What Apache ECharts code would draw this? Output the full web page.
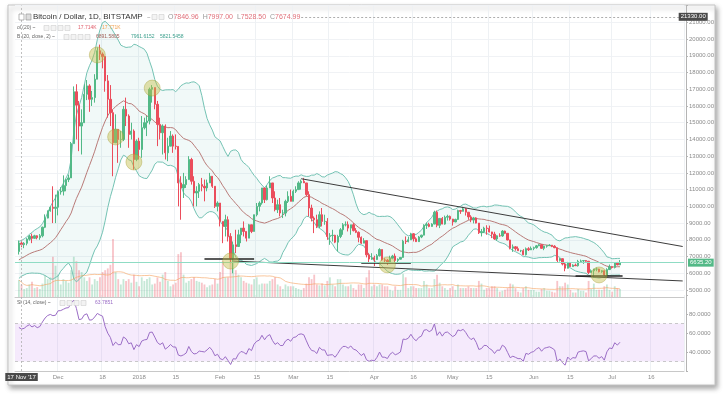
<!DOCTYPE html>
<html><head><meta charset="utf-8">
<script src="https://cdn.jsdelivr.net/npm/echarts@6/dist/echarts.min.js"></script>
<style>html,body{margin:0;padding:0;background:#fff;}#c{width:724px;height:395px;}</style>
</head><body><div id="c"></div>
<script>
// ---------------- DATA ----------------
const axisStart = '2017-11-15';   // first category on the time axis
const axisDays = 256;             // time axis runs to 2018-07-28
const firstDataDate = '2017-11-16';

// closes before the visible range (only to warm up BB(20) and RSI(14))
const priorCloses = [5590,5710,5680,6010,6010,5980,5900,5520,5750,5900,5780,5750,6150,6130,6450,
  6740,7030,7160,7380,7400,6990,7130,7460,7140,6580,6360,5880,6530,6600,7300];
const firstOpen = 7300;

// daily closes 2017-11-16 .. 2018-07-04
const closes = [
  7810,7710,7790,8040,8210,8090,8240,8130,8240,8750,9300,9730,9940,9880,9950,
  10860,10910,11240,11600,11700,13750,16850,16050,14800,15000,16700,17200,16400,16500,17600,19300,19100,18950,17500,16400,15600,13800,14600,14000,14000,15800,15400,14300,14500,12800,13900,
  13400,14700,15000,15100,17000,17100,16100,14900,14400,14800,13200,13600,14200,13600,13580,11400,11100,11300,11600,12800,11500,10800,10900,11300,11200,11100,11400,11800,11200,10000,10200,
  9100,8800,9200,8200,6900,7700,7600,8300,8700,8500,8100,8900,8500,9500,10000,10200,11100,10400,11100,11400,10500,9800,10100,9600,9600,10300,10600,10300,
  10900,11000,11400,11500,11400,10700,9900,9300,9200,8800,9500,9100,9100,8200,8250,8270,7860,8200,8600,8900,8900,8700,8900,8550,8450,8150,7800,7950,7100,6850,6930,
  6820,7050,7420,6800,6780,6620,6900,7030,6770,6840,6950,7920,7890,8000,8360,8060,7890,8170,8280,8860,8920,8800,8940,9650,8870,9280,8940,9350,9400,9240,
  9070,9220,9750,9700,9850,9650,9370,9180,9310,9000,8420,8480,8700,8680,8470,8340,8050,8240,8230,8520,8390,7990,7500,7580,7470,7350,7350,7110,7470,7400,7490,
  7530,7640,7710,7490,7620,7650,7680,7620,7530,6770,6870,6550,6300,6630,6400,6490,6450,6710,6740,6760,6720,6050,6150,6250,6250,6090,6150,5900,6220,6390,
  6350,6620,6500,6635.2];
const highs = [
  7960,8000,7860,8100,8290,8370,8300,8270,8340,8790,9520,9750,10000,11200,10700,
  10950,11150,11850,11650,11900,13850,17170,17300,16300,15800,17300,17550,17300,16900,17900,19500,19670,19200,19000,17850,17250,15780,15500,14600,14500,16000,16500,15500,15000,14600,14000,
  14100,15400,15300,15400,17100,17250,17100,16300,15300,14900,14900,14100,14500,14300,14300,13600,11800,12000,11800,13000,12900,11800,11200,11400,11700,11600,11600,12000,11800,11200,10300,
  10200,9100,9500,9400,8400,7900,8600,8600,8700,9100,8500,8950,8900,9500,10200,10300,11100,11100,11250,11800,11300,10900,10400,10500,9800,10400,10900,11000,
  11000,11200,11500,11600,11700,11400,10900,10100,9400,9500,9700,9900,9500,9300,8400,8600,8300,8300,8700,9000,9100,9100,8900,9000,8700,8500,8200,8100,7950,7200,7200,
  7050,7150,7500,7420,6900,6850,7050,7100,7180,6890,6970,8000,8200,8180,8420,8400,8150,8230,8300,8930,9030,9020,8990,9740,9750,9300,9360,9450,9500,9450,
  9250,9260,9800,9790,9970,9900,9660,9470,9370,9350,9000,8650,8780,8870,8850,8480,8480,8270,8390,8580,8550,8400,8000,7720,7630,7600,7400,7440,7540,7560,7600,
  7590,7690,7760,7740,7650,7690,7740,7690,7680,7530,6910,6890,6620,6680,6640,6540,6580,6800,6820,6790,6790,6730,6230,6260,6340,6270,6190,6170,6300,6520,
  6410,6650,6680,6790];
const lows = [
  7120,7560,7500,7670,7950,7800,8070,8030,8000,8150,8700,9280,9680,9000,9000,
  9460,10700,10650,10900,11450,11700,13750,14000,13300,13100,15000,16350,15650,16000,16200,17600,18750,18250,16850,15300,14800,11800,13800,12600,13500,13900,14800,13500,14000,12200,12700,
  12800,12900,14600,14200,14900,16200,15800,13600,14000,13100,12800,12700,13600,13200,13400,10000,9200,10500,11100,11600,11300,10000,10000,10500,10900,10300,10900,11400,11100,9900,9700,
  8800,7800,8200,7900,6600,6000,7200,7600,7800,8200,7900,8100,8400,8500,9400,9700,10100,10200,10350,11100,10200,9700,9600,9400,9300,9400,10200,10300,
  10300,10800,11000,11000,11400,10600,9400,9100,8400,8700,8700,8800,8900,8000,7700,7900,7800,7300,8100,8300,8800,8500,8300,8500,8400,7850,7750,7800,6950,6600,6800,
  6430,6800,7000,6750,6600,6500,6600,6900,6600,6650,6830,6930,7750,7850,8000,7900,7870,7880,8100,8270,8650,8750,8780,8930,8750,8700,8930,8900,9150,9150,
  8850,9050,9180,9550,9700,9450,9200,9050,8980,8980,8350,8200,8400,8300,8440,8100,8000,7950,8180,8180,8340,7970,7430,7280,7350,7330,7260,7080,7060,7330,7390,
  7380,7470,7620,7470,7380,7530,7630,7560,7500,6650,6700,6470,6120,6290,6380,6380,6440,6400,6680,6560,6690,5950,6040,5750,6120,6050,6030,5850,5800,6200,
  6280,6290,6480,6510];
// daily volume, thousands of BTC
const volumesK = [
  19,14,9,10,14,17,10,11,9,15,24,20,22,45,35,
  25,14,20,18,16,30,45,40,30,28,22,18,22,14,20,18,22,28,30,32,36,65,28,20,14,20,18,20,16,25,17,
  12,22,18,20,22,14,15,22,17,25,28,18,12,14,16,48,50,25,16,18,20,22,18,17,16,14,11,13,14,20,15,
  28,40,22,22,45,55,30,25,22,18,16,15,14,20,22,14,15,15,15,18,20,22,14,12,9,14,12,12,
  12,10,9,8,10,15,22,20,25,14,13,15,13,18,22,14,12,20,20,14,12,12,14,10,8,14,14,10,22,30,12,
  14,12,14,14,12,12,8,7,12,8,8,26,22,10,12,12,10,10,10,18,14,10,10,20,25,16,12,10,8,10,
  12,8,14,10,10,10,12,10,10,10,18,15,8,10,10,12,12,10,6,7,8,10,15,14,10,6,5,10,12,8,8,
  8,6,6,9,10,7,7,6,5,18,12,12,16,14,8,5,5,9,7,7,5,18,9,15,8,8,8,12,14,8,
  6,12,10,9];

// time-axis tick labels
const tickDates = ['2017-12-01','2017-12-18','2018-01-01','2018-01-15','2018-02-01','2018-02-15','2018-03-01','2018-03-15',
  '2018-04-01','2018-04-16','2018-05-01','2018-05-15','2018-06-01','2018-06-15','2018-07-01','2018-07-16'];
const tickTexts = ['Dec','18','2018','15','Feb','15','Mar','15','Apr','16','May','15','Jun','15','Jul','16'];

// annotations (date, price)
const circles = [['2017-12-16',19050],['2017-12-23',14150],['2018-01-06',17070],['2017-12-30',12650],
  ['2018-02-05',6730],['2018-04-06',6500],['2018-06-26',5900]];
const trendLines = [[['2018-03-04',11650],['2018-07-28',7600]], [['2018-02-06',6730],['2018-07-28',5540]]];
const supportLines = [[['2018-01-26',6850],['2018-02-14',6850]], [['2018-03-27',6610],['2018-04-15',6610]], [['2018-06-17',5840],['2018-07-05',5840]]];
const crossPrice = 21330, crossDate = '2017-11-17';

// ---------------- BUILD ----------------
const cats = [];
{ const t0 = Date.parse(axisStart + 'T00:00:00Z'); for (let i = 0; i < axisDays; i++) cats.push(new Date(t0 + i * 864e5).toISOString().slice(0, 10)); }
const off = cats.indexOf(firstDataDate);
const pad = n => Array(n).fill('-');
const N = closes.length;
const opens = closes.map((c, i) => i === 0 ? firstOpen : closes[i - 1]);
const candles = closes.map((c, i) => [opens[i], c, Math.min(lows[i], opens[i], c), Math.max(highs[i], opens[i], c)]);

const all = priorCloses.concat(closes), P = priorCloses.length;
const bbMid = [], bbUp = [], bbLo = [];
for (let i = 0; i < N; i++) {
  const w = all.slice(P + i - 19, P + i + 1);
  const m = w.reduce((a, b) => a + b, 0) / w.length;
  const sd = Math.sqrt(w.reduce((a, b) => a + (b - m) * (b - m), 0) / w.length);
  bbMid.push(m); bbUp.push(m + 2 * sd); bbLo.push(m - 2 * sd);
}
const rsiAll = [];
{ let ag = 0, al = 0;
  for (let k = 1; k < all.length; k++) {
    const d = all[k] - all[k - 1], g = Math.max(d, 0), l = Math.max(-d, 0);
    if (k <= 14) { ag += g / 14; al += l / 14; }
    else { ag = (ag * 13 + g) / 14; al = (al * 13 + l) / 14; }
    rsiAll[k] = k >= 14 ? (al === 0 ? 100 : 100 - 100 / (1 + ag / al)) : null;
  } }
const rsi = closes.map((c, i) => rsiAll[P + i]);
const volMA = volumesK.map((v, i) => { const w = volumesK.slice(Math.max(0, i - 19), i + 1); return w.reduce((a, b) => a + b, 0) / w.length * 1000; });

const isTick = (idx, val) => tickDates.indexOf(val) >= 0;
const FONT = '"Liberation Sans", "DejaVu Sans", sans-serif';
const axisCol = '#b4b4b4', lblCol = '#8c8c8c';

const lineDef = (pair, style) => [{ coord: pair[0], lineStyle: style }, { coord: pair[1] }];

const chart = echarts.init(document.getElementById('c'), null, { renderer: 'canvas' });
const boxes = (x0, y, n) => Array.from({ length: n }, (_, k) => ({ type: 'rect', shape: { x: x0 + k * 7, y: y - 2.5, width: 5, height: 5 }, style: { fill: '#f3f3f3', stroke: '#cfcfcf', lineWidth: 0.6 }, z: 10 }));
const txt = (x, y, text, size, fill) => ({ type: 'text', x, y, style: { text, font: size + 'px ' + FONT, fill, verticalAlign: 'middle' }, z: 10 });

const option = {
  animation: false,
  backgroundColor: '#ffffff',
  textStyle: { fontFamily: FONT },
  graphic: [
    { type: 'rect', shape: { x: 8, y: 5, width: 707, height: 380 }, style: { fill: '#fff', stroke: '#c4c4c4', lineWidth: 1, shadowBlur: 5, shadowColor: 'rgba(0,0,0,0.35)', shadowOffsetX: 2, shadowOffsetY: 3 }, z: -10 },
    { type: 'rect', shape: { x: 19, y: 14, width: 5, height: 6 }, style: { fill: '#fff', stroke: '#999', lineWidth: 0.7 }, z: 10 },
    { type: 'rect', shape: { x: 26, y: 14, width: 5, height: 6 }, style: { fill: '#ddd', stroke: '#999', lineWidth: 0.7 }, z: 10 },
    txt(33, 17, 'Bitcoin / Dollar, 1D, BITSTAMP', 8, '#333'),
    txt(147, 17, '~', 6, '#999'),
    ...boxes(152, 17, 2),
    { type: 'text', x: 168, y: 17, style: { text: '{g|O}{r|7846.96}  {g|H}{r|7997.00}  {g|L}{r|7528.50}  {g|C}{r|7674.99}', font: '7px ' + FONT, verticalAlign: 'middle', rich: { g: { fill: '#999', font: '7px ' + FONT }, r: { fill: '#e0707a', font: '7px ' + FONT } } }, z: 10 },
    txt(17, 28, 'ol (20) ~', 5, '#666'),
    ...boxes(44, 28, 4),
    txt(78, 28, '17.714K', 5, '#e0606e'),
    txt(102, 28, '17.771K', 5, '#f0a050'),
    txt(17, 37, 'B (20, close, 2) ~', 5, '#666'),
    ...boxes(64, 37, 4),
    txt(96, 37, '6891.5805', 5, '#a0605a'),
    txt(131, 37, '7961.6152', 5, '#3ea08e'),
    txt(160, 37, '5821.5458', 5, '#3ea08e'),
    txt(17, 303, 'SI (14, close) ~', 5, '#666'),
    ...boxes(60, 303, 4),
    txt(95, 303, '63.7851', 5, '#9b6dc6')
  ],
  grid: [
    { left: 15, right: 40, top: 5.6, bottom: 105 },
    { left: 15, right: 40, top: 238, bottom: 98 },
    { left: 15, right: 40, top: 295, bottom: 24 }
  ],
  xAxis: [0, 1, 2].map(gi => ({
    type: 'category', gridIndex: gi, data: cats, boundaryGap: true,
    axisLine: { show: gi > 0, lineStyle: { color: '#c8c8c8', width: 1 } },
    axisTick: { show: false },
    axisLabel: { show: gi === 2, interval: isTick, formatter: v => tickTexts[tickDates.indexOf(v)], fontSize: 6, color: lblCol, margin: 3, fontFamily: FONT },
    splitLine: { show: gi !== 1, interval: isTick, lineStyle: { color: '#eef1f4', width: 1 } }
  })),
  yAxis: [
    { gridIndex: 0, type: 'value', position: 'right', min: 5000, max: 22000, interval: 1000, offset: 2,
      axisLine: { show: true, lineStyle: { color: axisCol } }, axisTick: { show: true, length: 2, lineStyle: { color: axisCol } },
      axisLabel: { fontSize: 6, color: lblCol, margin: 3, fontFamily: FONT, formatter: v => v >= 22000 ? '' : v.toFixed(2) },
      splitLine: { lineStyle: { color: '#f0f2f5' } } },
    { gridIndex: 1, type: 'value', position: 'right', min: 0, max: 66000, offset: 2,
      axisLine: { show: true, lineStyle: { color: axisCol } }, axisTick: { show: false }, axisLabel: { show: false }, splitLine: { show: false } },
    { gridIndex: 2, type: 'value', position: 'right', min: 20, max: 100, interval: 20, offset: 2,
      axisLine: { show: true, lineStyle: { color: axisCol } }, axisTick: { show: true, length: 2, lineStyle: { color: axisCol } },
      axisLabel: { fontSize: 6, color: lblCol, margin: 3, fontFamily: FONT, formatter: v => (v === 20 || v === 100) ? '' : v.toFixed(4) },
      splitLine: { show: false } }
  ],
  series: [
    { name: 'bbLower', type: 'line', xAxisIndex: 0, yAxisIndex: 0, stack: 'bb', data: pad(off).concat(bbLo), symbol: 'none', lineStyle: { color: '#74c3b4', width: 1 }, z: 1, silent: true },
    { name: 'bbBand', type: 'line', xAxisIndex: 0, yAxisIndex: 0, stack: 'bb', data: pad(off).concat(bbUp.map((u, i) => u - bbLo[i])), symbol: 'none', lineStyle: { color: '#74c3b4', width: 1 }, areaStyle: { color: 'rgba(110,195,180,0.14)' }, z: 1, silent: true },
    { name: 'bbMid', type: 'line', xAxisIndex: 0, yAxisIndex: 0, data: pad(off).concat(bbMid), symbol: 'none', lineStyle: { color: '#b97b78', width: 1 }, z: 2, silent: true },
    { name: 'volume', type: 'bar', xAxisIndex: 1, yAxisIndex: 1, barWidth: '70%', z: 1, silent: true,
      data: pad(off).concat(volumesK.map((v, i) => ({ value: v * 1000, itemStyle: { color: closes[i] >= opens[i] ? 'rgba(83,185,135,0.33)' : 'rgba(235,77,92,0.33)' } }))) },
    { name: 'volMA', type: 'line', xAxisIndex: 1, yAxisIndex: 1, data: pad(off).concat(volMA), symbol: 'none', lineStyle: { color: 'rgba(245,160,90,0.75)', width: 0.8 }, z: 2, silent: true },
    { name: 'price', type: 'candlestick', xAxisIndex: 0, yAxisIndex: 0, barWidth: '70%', z: 4, silent: true,
      data: pad(off).map(() => ['-', '-', '-', '-']).concat(candles),
      itemStyle: { color: '#53b987', color0: '#eb4d5c', borderColor: '#53b987', borderColor0: '#eb4d5c', borderWidth: 1 },
      markLine: { silent: true, symbol: 'none', animation: false, label: { show: false },
        data: [
          ...trendLines.map(p => lineDef(p, { color: '#3c3c3c', width: 1, type: 'solid' })),
          ...supportLines.map(p => lineDef(p, { color: '#222', width: 1.5, type: 'solid' })),
          { yAxis: closes[N - 1], lineStyle: { color: '#8fdcc4', width: 1, type: 'solid' },
            label: { show: true, position: 'end', distance: 4, formatter: () => closes[N - 1].toFixed(2), backgroundColor: '#53b987', color: '#fff', fontSize: 6, padding: [1, 2], fontFamily: FONT } },
          [{ coord: ['2018-03-04', crossPrice], lineStyle: { color: '#9a9a9a', width: 0.8, type: [2, 2] },
             label: { show: true, position: 'end', distance: -4, formatter: () => crossPrice.toFixed(2), backgroundColor: '#4a4a4a', color: '#fff', fontSize: 6, padding: [1, 2], fontFamily: FONT } },
           { coord: [cats[cats.length - 1], crossPrice] }],
          { xAxis: crossDate, lineStyle: { color: '#b0b0b0', width: 0.8, type: [2, 2] } }
        ] } },
    { name: 'marks', type: 'scatter', xAxisIndex: 0, yAxisIndex: 0, data: circles, symbolSize: 16, z: 6, silent: true,
      itemStyle: { color: 'rgba(196,190,70,0.55)', borderColor: 'rgba(160,150,40,0.45)', borderWidth: 1 } },
    { name: 'rsi', type: 'line', xAxisIndex: 2, yAxisIndex: 2, data: pad(off).concat(rsi), symbol: 'none', lineStyle: { color: '#9b6dc6', width: 1 }, z: 3, silent: true,
      markArea: { silent: true, itemStyle: { color: 'rgba(205,150,240,0.2)' }, data: [[{ yAxis: 30 }, { yAxis: 70 }]] },
      markLine: { silent: true, symbol: 'none', animation: false, label: { show: false },
        data: [
          { yAxis: 70, lineStyle: { color: '#bbb', width: 0.8, type: [3, 3] } },
          { yAxis: 30, lineStyle: { color: '#bbb', width: 0.8, type: [3, 3] } },
          { xAxis: crossDate, lineStyle: { color: '#b0b0b0', width: 0.8, type: [2, 2] },
            label: { show: true, position: 'start', distance: 2, formatter: () => "17 Nov '17", backgroundColor: '#4a4a4a', color: '#fff', fontSize: 6, padding: [1, 2], fontFamily: FONT } }
        ] } }
  ]
};
chart.setOption(option);
</script></body></html>
